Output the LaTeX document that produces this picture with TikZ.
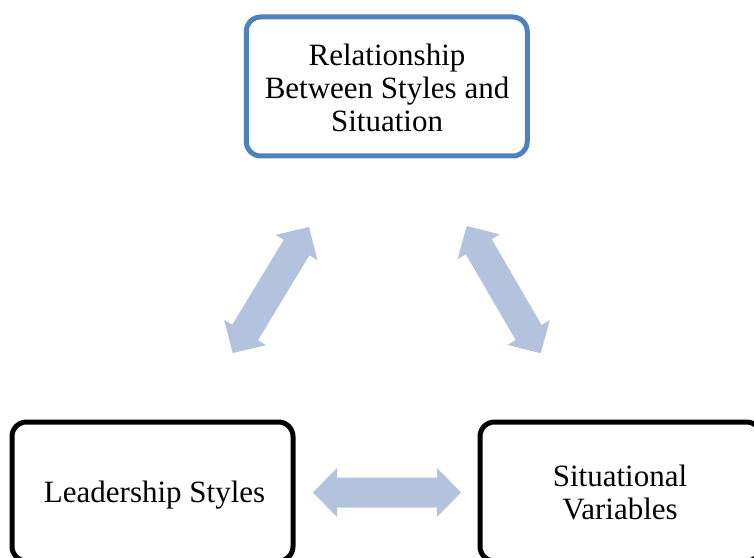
\documentclass[tikz,border=0pt]{standalone}
\usepackage{fontspec}
\setmainfont{Liberation Serif}
\usetikzlibrary{calc}
\definecolor{boxblue}{RGB}{79,129,189}
\definecolor{arrowfill}{RGB}{179,195,221}
\newcommand{\blockarrow}[2]{%
  \fill[arrowfill] (#1)
    -- ($($(#1)!24pt!(#2)$)!24.5pt!90:(#2)$)
    -- ($($(#1)!24pt!(#2)$)!15pt!90:(#2)$)
    -- ($($(#2)!24pt!(#1)$)!15pt!-90:(#1)$)
    -- ($($(#2)!24pt!(#1)$)!24.5pt!-90:(#1)$)
    -- (#2)
    -- ($($(#2)!24pt!(#1)$)!24.5pt!90:(#1)$)
    -- ($($(#2)!24pt!(#1)$)!15pt!90:(#1)$)
    -- ($($(#1)!24pt!(#2)$)!15pt!-90:(#2)$)
    -- ($($(#1)!24pt!(#2)$)!24.5pt!-90:(#2)$)
    -- cycle;}
\begin{document}
\begin{tikzpicture}[x=1pt,y=1pt,
  box/.style={draw, line width=5pt, rounded corners=14.5pt, fill=white,
    minimum width=281pt, minimum height=139pt, inner sep=0pt},
  lbl/.style={anchor=base, inner sep=0pt, font=\fontsize{31}{33}\selectfont}]
\useasboundingbox (0,0) rectangle (754,557);
\begin{scope}
\clip (0,0) rectangle (754,557);
\node[box, draw=boxblue] (top) at (386.75,470.5) {};
\node[box, draw=black] (lead) at (152.5,65.5) {};
\node[box, draw=black] (sit) at (620.5,65.5) {};
\end{scope}
\node[lbl] (toptext) at (387,491) {\begin{tabular}[t]{@{}c@{}}Relationship\\Between Styles and\\Situation\end{tabular}};
\node[lbl] (leadtext) at (154.6,55) {Leadership Styles};
\node[lbl] (sittext) at (620,71) {\begin{tabular}[t]{@{}c@{}}Situational\\Variables\end{tabular}};
\coordinate (hA) at (313,64.5);
\coordinate (hB) at (461,64.5);
\coordinate (lA) at (232.7,204);
\coordinate (lB) at (309,330);
\coordinate (rA) at (466.7,331);
\coordinate (rB) at (540.7,203.7);
\blockarrow{hA}{hB}
\blockarrow{lA}{lB}
\blockarrow{rA}{rB}
\end{tikzpicture}
\end{document}
